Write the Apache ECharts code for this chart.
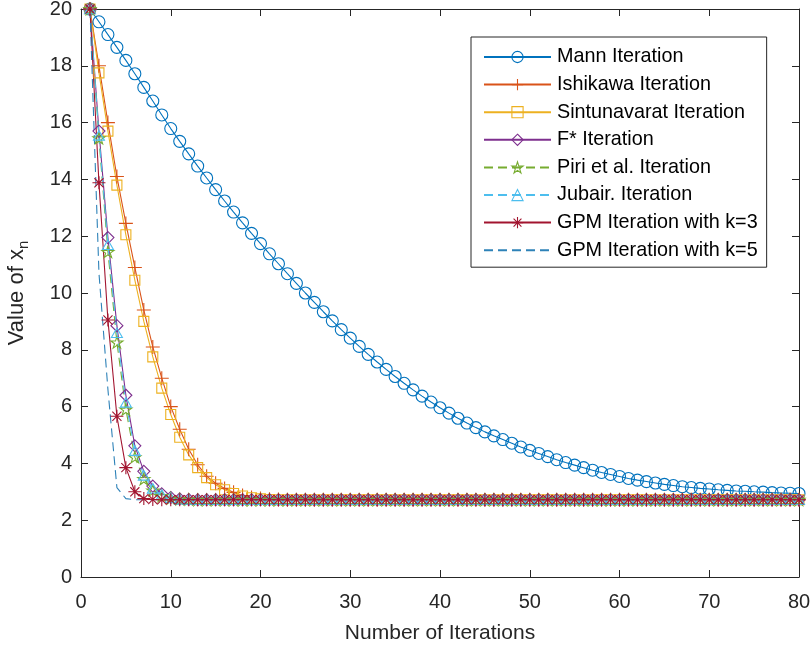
<!DOCTYPE html>
<html>
<head>
<meta charset="utf-8">
<script src="https://cdn.jsdelivr.net/npm/echarts@6/dist/echarts.min.js"></script>
<style>html,body{margin:0;padding:0;background:#fff}#c{width:811px;height:647px}</style>
</head>
<body>
<div id="c"></div>
<script>
const iterations = [1,2,3,4,5,6,7,8,9,10,11,12,13,14,15,16,17,18,19,20,21,22,23,24,25,26,27,28,29,30,31,32,33,34,35,36,37,38,39,40,41,42,43,44,45,46,47,48,49,50,51,52,53,54,55,56,57,58,59,60,61,62,63,64,65,66,67,68,69,70,71,72,73,74,75,76,77,78,79,80];
const seriesNames = ['Mann Iteration','Ishikawa Iteration','Sintunavarat Iteration','F* Iteration','Piri et al. Iteration','Jubair. Iteration','GPM Iteration with k=3','GPM Iteration with k=5'];
const mann = [20.00,19.55,19.10,18.65,18.19,17.72,17.24,16.76,16.27,15.79,
15.34,14.90,14.47,14.05,13.64,13.24,12.85,12.47,12.10,11.74,
11.38,11.03,10.68,10.34,10.00,9.67,9.34,9.02,8.71,8.41,
8.12,7.84,7.57,7.31,7.06,6.82,6.59,6.37,6.16,5.96,
5.77,5.59,5.42,5.26,5.11,4.97,4.84,4.71,4.58,4.46,
4.35,4.24,4.13,4.03,3.94,3.85,3.76,3.68,3.61,3.54,
3.47,3.41,3.36,3.31,3.26,3.22,3.18,3.15,3.12,3.10,
3.07,3.05,3.03,3.02,3.00,2.99,2.97,2.96,2.95,2.94];
const ishikawa = [20.0,18.0,16.0,14.1,12.45,10.9,9.4,8.1,7.0,6.0,
5.2,4.5,3.95,3.55,3.3,3.12,2.98,2.87,2.8,2.76,
2.74,2.73,2.72,2.72,2.72,2.72,2.72,2.72,2.72,2.72,
2.72,2.72,2.72,2.72,2.72,2.72,2.72,2.72,2.72,2.72,
2.72,2.72,2.72,2.72,2.72,2.72,2.72,2.72,2.72,2.72,
2.72,2.72,2.72,2.72,2.72,2.72,2.72,2.72,2.72,2.72,
2.72,2.72,2.72,2.72,2.72,2.72,2.72,2.72,2.72,2.72,
2.72,2.72,2.72,2.72,2.72,2.72,2.72,2.72,2.72,2.72];
const sintunavarat = [20.0,17.75,15.7,13.8,12.05,10.45,9.0,7.75,6.65,5.72,
4.92,4.3,3.85,3.5,3.25,3.07,2.94,2.85,2.79,2.75,
2.73,2.72,2.72,2.72,2.72,2.72,2.72,2.72,2.72,2.72,
2.72,2.72,2.72,2.72,2.72,2.72,2.72,2.72,2.72,2.72,
2.72,2.72,2.72,2.72,2.72,2.72,2.72,2.72,2.72,2.72,
2.72,2.72,2.72,2.72,2.72,2.72,2.72,2.72,2.72,2.72,
2.72,2.72,2.72,2.72,2.72,2.72,2.72,2.72,2.72,2.72,
2.72,2.72,2.72,2.72,2.72,2.72,2.72,2.72,2.72,2.72];
const fStar = [20.0,15.7,11.95,8.85,6.4,4.62,3.72,3.2,2.93,2.8,
2.75,2.73,2.72,2.72,2.72,2.72,2.72,2.72,2.72,2.72,
2.72,2.72,2.72,2.72,2.72,2.72,2.72,2.72,2.72,2.72,
2.72,2.72,2.72,2.72,2.72,2.72,2.72,2.72,2.72,2.72,
2.72,2.72,2.72,2.72,2.72,2.72,2.72,2.72,2.72,2.72,
2.72,2.72,2.72,2.72,2.72,2.72,2.72,2.72,2.72,2.72,
2.72,2.72,2.72,2.72,2.72,2.72,2.72,2.72,2.72,2.72,
2.72,2.72,2.72,2.72,2.72,2.72,2.72,2.72,2.72,2.72];
const piri = [20.0,15.45,11.45,8.26,5.9,4.22,3.45,3.05,2.86,2.77,
2.74,2.73,2.72,2.72,2.72,2.72,2.72,2.72,2.72,2.72,
2.72,2.72,2.72,2.72,2.72,2.72,2.72,2.72,2.72,2.72,
2.72,2.72,2.72,2.72,2.72,2.72,2.72,2.72,2.72,2.72,
2.72,2.72,2.72,2.72,2.72,2.72,2.72,2.72,2.72,2.72,
2.72,2.72,2.72,2.72,2.72,2.72,2.72,2.72,2.72,2.72,
2.72,2.72,2.72,2.72,2.72,2.72,2.72,2.72,2.72,2.72,
2.72,2.72,2.72,2.72,2.72,2.72,2.72,2.72,2.72,2.72];
const jubair = [20.0,15.55,11.7,8.6,6.15,4.45,3.58,3.12,2.9,2.79,
2.74,2.73,2.72,2.72,2.72,2.72,2.72,2.72,2.72,2.72,
2.72,2.72,2.72,2.72,2.72,2.72,2.72,2.72,2.72,2.72,
2.72,2.72,2.72,2.72,2.72,2.72,2.72,2.72,2.72,2.72,
2.72,2.72,2.72,2.72,2.72,2.72,2.72,2.72,2.72,2.72,
2.72,2.72,2.72,2.72,2.72,2.72,2.72,2.72,2.72,2.72,
2.72,2.72,2.72,2.72,2.72,2.72,2.72,2.72,2.72,2.72,
2.72,2.72,2.72,2.72,2.72,2.72,2.72,2.72,2.72,2.72];
const gpmK3 = [20.0,13.88,9.05,5.66,3.85,3.0,2.76,2.73,2.72,2.72,
2.72,2.72,2.72,2.72,2.72,2.72,2.72,2.72,2.72,2.72,
2.72,2.72,2.72,2.72,2.72,2.72,2.72,2.72,2.72,2.72,
2.72,2.72,2.72,2.72,2.72,2.72,2.72,2.72,2.72,2.72,
2.72,2.72,2.72,2.72,2.72,2.72,2.72,2.72,2.72,2.72,
2.72,2.72,2.72,2.72,2.72,2.72,2.72,2.72,2.72,2.72,
2.72,2.72,2.72,2.72,2.72,2.72,2.72,2.72,2.72,2.72,
2.72,2.72,2.72,2.72,2.72,2.72,2.72,2.72,2.72,2.72];
const gpmK5 = [20.0,10.7,6.6,3.15,2.76,2.72,2.72,2.72,2.72,2.72,
2.72,2.72,2.72,2.72,2.72,2.72,2.72,2.72,2.72,2.72,
2.72,2.72,2.72,2.72,2.72,2.72,2.72,2.72,2.72,2.72,
2.72,2.72,2.72,2.72,2.72,2.72,2.72,2.72,2.72,2.72,
2.72,2.72,2.72,2.72,2.72,2.72,2.72,2.72,2.72,2.72,
2.72,2.72,2.72,2.72,2.72,2.72,2.72,2.72,2.72,2.72,
2.72,2.72,2.72,2.72,2.72,2.72,2.72,2.72,2.72,2.72,
2.72,2.72,2.72,2.72,2.72,2.72,2.72,2.72,2.72,2.72];
const xTicks = [0,10,20,30,40,50,60,70,80];
const yTicks = [0,2,4,6,8,10,12,14,16,18,20];

const FONT = 'Liberation Sans, Arial, Helvetica, sans-serif';
const AX = '#262626';
const SYM = {
  circle: 'path://M1,0 A1,1 0 1,1 -1,0 A1,1 0 1,1 1,0 Z',
  plus: 'path://M0,-1 L0,1 M-1,0 L1,0',
  square: 'path://M-1,-1 L1,-1 L1,1 L-1,1 Z',
  diamond: 'path://M0,-1 L1,0 L0,1 L-1,0 Z',
  star: 'path://M0,-1 L0.2245,-0.309 L0.951,-0.309 L0.363,0.118 L0.588,0.809 L0,0.382 L-0.588,0.809 L-0.363,0.118 L-0.951,-0.309 L-0.2245,-0.309 Z',
  triangle: 'path://M0,-1 L0.866,0.5 L-0.866,0.5 Z',
  asterisk: 'path://M0,-1 L0,1 M-1,0 L1,0 M-0.7,-0.7 L0.7,0.7 M-0.7,0.7 L0.7,-0.7'
};
function pairs(vals){ return iterations.map((n,i)=>[n, vals[i]]); }
function mk(name, vals, color, symbol, size, dashed){
  return {
    name, type:'line', data: pairs(vals),
    symbol: symbol || 'none', symbolSize: size, symbolKeepAspect: true,
    showSymbol: !!symbol, showAllSymbol: true,
    lineStyle: {color, width: 1.1, type: dashed ? [9,5] : 'solid'},
    itemStyle: {color: 'none', borderColor: color, borderWidth: 1.1},
    emphasis: {disabled: true}, animation: false
  };
}
const legendData = seriesNames.map((n, i) => i === 7
  ? {name: n, itemStyle: {color: 'none', borderColor: 'none', borderWidth: 0, opacity: 0}}
  : {name: n});
const chart = echarts.init(document.getElementById('c'), null, {renderer:'canvas'});
const axLine = {show:true, onZero:false, lineStyle:{color:AX, width:1}};
const axTick = {show:true, inside:true, length:7, lineStyle:{color:AX, width:1}};
chart.setOption({
  animation: false,
  backgroundColor: '#fff',
  grid: {left:81, right:12, top:9, bottom:70, containLabel:false, outerBoundsMode:'none'},
  xAxis: [
    {type:'value', min:0, max:80, interval:10, position:'bottom',
     axisLine: axLine, axisTick: axTick, splitLine:{show:false},
     axisLabel:{fontSize:20, color:AX, fontFamily:FONT, margin:15},
     name:'Number of Iterations', nameLocation:'middle', nameGap:46,
     nameTextStyle:{fontSize:21, color:AX, fontFamily:FONT}},
    {type:'value', min:0, max:80, interval:10, position:'top',
     axisLine: axLine, axisTick: axTick, splitLine:{show:false}, axisLabel:{show:false}}
  ],
  yAxis: [
    {type:'value', min:0, max:20, interval:2, position:'left',
     axisLine: axLine, axisTick: axTick, splitLine:{show:false},
     axisLabel:{fontSize:20, color:AX, fontFamily:FONT, margin:9},
     name:'{a|Value of x}{b|n}', nameLocation:'middle', nameGap:50,
     nameTextStyle:{color:AX, fontFamily:FONT,
       rich:{a:{fontSize:22, lineHeight:28, color:AX, fontFamily:FONT},
             b:{fontSize:15, lineHeight:16, verticalAlign:'bottom', color:AX, fontFamily:FONT}}}},
    {type:'value', min:0, max:20, interval:2, position:'right',
     axisLine: axLine, axisTick: axTick, splitLine:{show:false}, axisLabel:{show:false}}
  ],
  legend: {
    orient:'vertical', left:471, top:37,
    backgroundColor:'#fff', borderColor:AX, borderWidth:1,
    padding:[10, 9, 7, 12],
    itemWidth:67, itemHeight:14, itemGap:7.6,
    itemStyle:{borderWidth:1.1},
    textStyle:{fontSize:19.8, color:'#000', fontFamily:FONT, lineHeight:20, padding:[0,0,0,1]},
    selectedMode:false,
    data: legendData
  },
  series: [
    mk(seriesNames[0], mann, '#0072BD', SYM.circle, 12),
    mk(seriesNames[1], ishikawa, '#D95319', SYM.plus, 14),
    mk(seriesNames[2], sintunavarat, '#EDB120', SYM.square, 10),
    mk(seriesNames[3], fStar, '#7E2F8E', SYM.diamond, 12),
    mk(seriesNames[4], piri, '#77AC30', SYM.star, 12, true),
    mk(seriesNames[5], jubair, '#4DBEEE', SYM.triangle, 11, true),
    mk(seriesNames[6], gpmK3, '#A2142F', SYM.asterisk, 13),
    mk(seriesNames[7], gpmK5, '#2E82B8', null, 0, true)
  ]
});
</script>
</body>
</html>
